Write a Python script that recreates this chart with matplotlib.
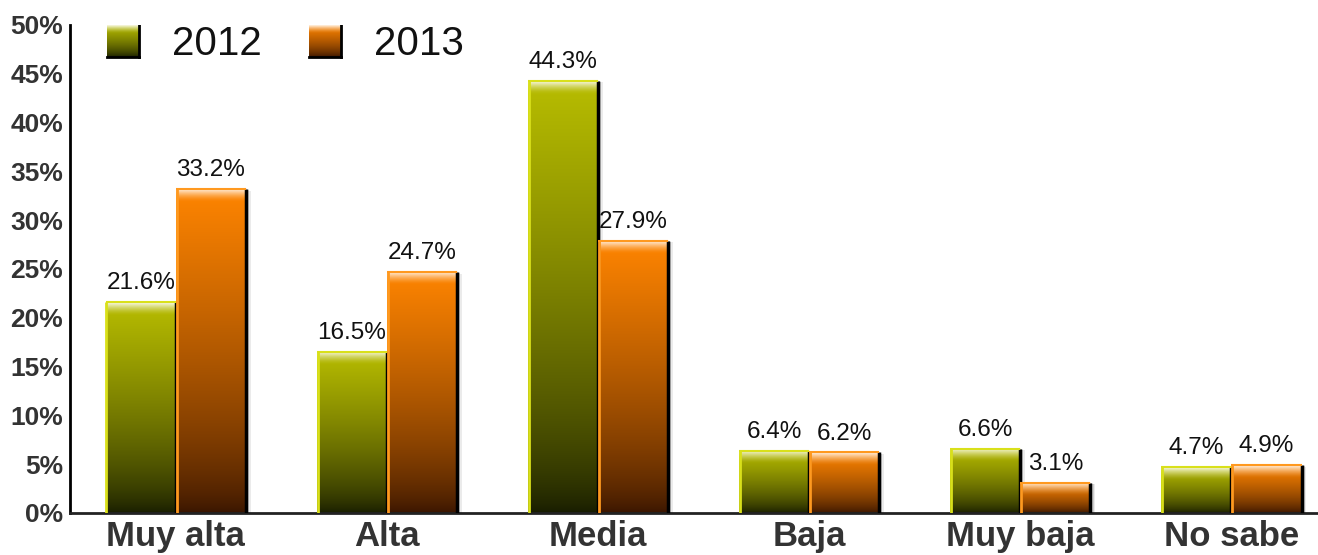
import numpy as np
import matplotlib.pyplot as plt
from matplotlib.patches import Rectangle
from matplotlib.ticker import FuncFormatter

categories = ["Muy alta", "Alta", "Media", "Baja", "Muy baja", "No sabe"]
v2012 = [21.6, 16.5, 44.3, 6.4, 6.6, 4.7]
v2013 = [33.2, 24.7, 27.9, 6.2, 3.1, 4.9]
years = ["2012", "2013"]

# gradient colours: (top, bottom, left edge)
green = ((0.72, 0.74, 0.0), (0.09, 0.11, 0.0), (0.85, 0.88, 0.10))
orange = ((1.0, 0.52, 0.0), (0.22, 0.08, 0.0), (1.0, 0.60, 0.12))

plt.rcParams['font.family'] = ['Liberation Sans', 'DejaVu Sans']

fig = plt.figure(figsize=(13.18, 5.55), dpi=100)
ax = fig.add_axes([0.053, 0.0757, 0.947, 0.8793])
w = 0.332
ylim = (0, 50)
xlim = (-0.502, 5.41)


def grad_img(h, cols, hl=1.3):
    top, bot, _ = cols
    y = np.linspace(0, h, 200)
    t = (y / h) ** 0.7
    rgb = np.outer(1 - t, bot) + np.outer(t, top)
    f = np.clip(1 - (h - y) / hl, 0, 1) ** 1.5 * 0.9
    rgb = rgb * (1 - f[:, None]) + f[:, None]
    return rgb[:, None, :]


def gbar(x0, h, cols):
    # soft shadow
    for k, a in [(0.022, 0.08), (0.015, 0.12), (0.008, 0.22)]:
        ax.add_patch(Rectangle((x0 + k, 0), w, h - k * 8, color='black',
                               alpha=a, lw=0, zorder=1))
    ax.imshow(grad_img(h, cols), extent=(x0, x0 + w, 0, h), origin='lower',
              aspect='auto', interpolation='bilinear', zorder=2)
    ax.plot([x0 + w, x0 + w], [0, h], color='black', lw=2.5, zorder=3,
            solid_capstyle='butt')
    ax.plot([x0 + w * 0.01, x0 + w * 0.01], [0, h], color=cols[2], lw=2,
            zorder=3, solid_capstyle='butt')
    ax.plot([x0, x0 + w], [h, h], color=cols[2], lw=1.5, zorder=3,
            solid_capstyle='butt')


x = np.arange(len(categories))
for i in range(len(categories)):
    for j, (vals, cols) in enumerate([(v2012, green), (v2013, orange)]):
        x0 = x[i] - w + j * w
        gbar(x0, vals[i], cols)
        ax.text(x0 + w / 2, vals[i] + 0.8, f"{vals[i]:.1f}%", ha='center',
                va='bottom', fontsize=17.5, color='#111111')

# legend drawn in axes coordinates
for j, (yr, cols) in enumerate(zip(years, [green, orange])):
    lx = 0.0295 + j * 0.1622
    ax.imshow(grad_img(1, cols, hl=0.25), extent=(lx, lx + 0.0255, 0.935, 1.0),
              transform=ax.transAxes, aspect='auto', origin='lower',
              interpolation='bilinear', zorder=4)
    ax.plot([lx + 0.0255, lx + 0.0255], [0.935, 1.0], color='black', lw=2,
            transform=ax.transAxes, zorder=5)
    ax.plot([lx, lx + 0.0255], [0.935, 0.935], color='black', lw=2,
            transform=ax.transAxes, zorder=5)
    ax.text(lx + 0.052, 0.962, yr, transform=ax.transAxes, fontsize=29,
            va='center', ha='left', color='#111111')

ax.set_xlim(*xlim)
ax.set_ylim(*ylim)
ax.set_yticks(np.arange(0, 51, 5))
ax.yaxis.set_major_formatter(FuncFormatter(lambda v, p: f"{v:.0f}%"))
ax.set_xticks(x)
ax.set_xticklabels(categories)
ax.tick_params(axis='y', length=0, pad=5, labelsize=19, labelcolor='#333333')
ax.tick_params(axis='x', length=0, pad=5, labelsize=25, labelcolor='#333333')
for lab in ax.get_yticklabels() + ax.get_xticklabels():
    lab.set_fontweight('bold')
for s in ['top', 'right']:
    ax.spines[s].set_visible(False)
ax.spines['left'].set_linewidth(2)
ax.spines['bottom'].set_linewidth(2)
ax.spines['bottom'].set_color('#222222')
ax.set_facecolor('white')

fig.savefig('out.png', dpi=100)
